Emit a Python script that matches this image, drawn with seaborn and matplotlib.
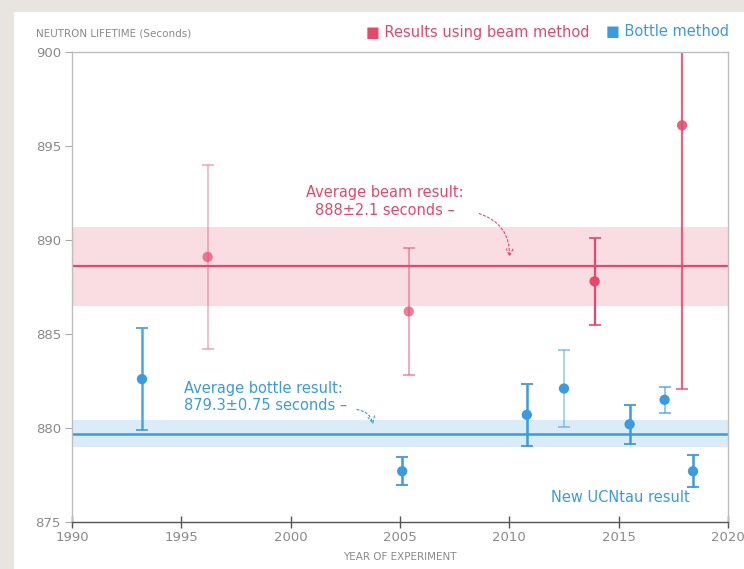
import numpy as np
import pandas as pd
import matplotlib
matplotlib.use("Agg")
import matplotlib.pyplot as plt
from matplotlib.patches import Rectangle
import seaborn as sns

# ---------------- data ----------------
beam_year = [1996.2, 2005.4, 2013.9, 2017.9]
beam_life = [889.1, 886.2, 887.8, 896.1]
beam_err = [4.9, 3.4, 2.3, 14.0]

bottle_year = [1993.2, 2005.1, 2010.8, 2012.5, 2015.5, 2017.1, 2018.4]
bottle_life = [882.6, 877.7, 880.7, 882.1, 880.2, 881.5, 877.7]
bottle_err = [2.7, 0.75, 1.65, 2.05, 1.05, 0.7, 0.85]

beam_avg, beam_avg_err = 888.6, 2.1
bottle_avg, bottle_avg_err = 879.7, 0.7

x_ticks = [1990, 1995, 2000, 2005, 2010, 2015, 2020]
y_ticks = [875, 880, 885, 890, 895, 900]

# ---------------- styles ----------------
PINK = "#e8476a"
PINK_BAND = "#fadce3"
BLUE = "#3a9be0"
BLUE_BAND = "#dbecf9"
GREY = "#8a8a8a"
beam_alpha = [0.45, 0.6, 1.0, 0.85]
bottle_alpha = [0.9, 1.0, 1.0, 0.55, 1.0, 0.7, 1.0]

sns.set_theme(style="white")
plt.rcParams["font.family"] = ["DejaVu Sans"]

fig = plt.figure(figsize=(7.44, 5.69), dpi=100)
fig.patch.set_facecolor("#e8e4df")
card = Rectangle((14 / 744, 0), 1 - 14 / 744, 1 - 12 / 569, transform=fig.transFigure,
                 facecolor="white", edgecolor="none", zorder=-10)
fig.patches.append(card)

ax = fig.add_axes([72 / 744, 1 - 522 / 569, (728 - 72) / 744, (522 - 52) / 569])
ax.set_facecolor("white")

# bands and average lines
ax.axhspan(beam_avg - beam_avg_err, beam_avg + beam_avg_err, color=PINK_BAND, lw=0, zorder=0)
ax.axhline(beam_avg, color=PINK, lw=1.6, zorder=1)
ax.axhspan(bottle_avg - bottle_avg_err, bottle_avg + bottle_avg_err, color=BLUE_BAND, lw=0, zorder=0)
ax.axhline(bottle_avg, color=BLUE, lw=1.8, zorder=1)

# error bars
for x, y, e, a in zip(beam_year, beam_life, beam_err, beam_alpha):
    ax.errorbar(x, y, yerr=e, color=PINK, alpha=a, lw=1.6 if a > 0.8 else 1.1,
                capsize=4, capthick=1.2, fmt="none", zorder=2)
for x, y, e, a in zip(bottle_year, bottle_life, bottle_err, bottle_alpha):
    ax.errorbar(x, y, yerr=e, color=BLUE, alpha=a, lw=1.8 if a > 0.8 else 1.1,
                capsize=4, capthick=1.3, fmt="none", zorder=2)

df = pd.DataFrame({
    "year": beam_year + bottle_year,
    "life": beam_life + bottle_life,
    "method": ["beam"] * len(beam_year) + ["bottle"] * len(bottle_year),
})
sns.scatterplot(data=df, x="year", y="life", hue="method",
                palette={"beam": PINK, "bottle": BLUE}, s=55, edgecolor="none",
                legend=False, ax=ax, zorder=3)
for c in ax.collections[-1:]:
    cols = c.get_facecolors()
    alphas = [max(a, 0.7) for a in beam_alpha] + [1.0] * len(bottle_year)
    cols[:, 3] = alphas
    c.set_facecolors(cols)

ax.set_xlim(1990, 2020)
ax.set_ylim(875, 900)
ax.set_xticks(x_ticks)
ax.set_xticks(np.arange(1990, 2021, 1), minor=True)
ax.set_yticks(y_ticks)
ax.set_xticklabels([str(t) for t in x_ticks], fontsize=9.5, color=GREY)
ax.set_yticklabels([str(t) for t in y_ticks], fontsize=9.5, color=GREY)
ax.tick_params(axis="x", which="major", direction="inout", length=9, width=1, color="#555555", pad=2)
ax.tick_params(axis="x", which="minor", direction="inout", length=5, width=0.9, color="#555555")
ax.tick_params(axis="y", which="major", direction="out", length=5, width=0.8, color="#aaaaaa", pad=3)
ax.tick_params(left=True, bottom=True)
for s in ["top", "right", "left"]:
    ax.spines[s].set_color("#bdbdbd")
    ax.spines[s].set_linewidth(1.0)
ax.spines["bottom"].set_color("#555555")
ax.spines["bottom"].set_linewidth(1.0)
ax.set_xlabel("YEAR OF EXPERIMENT", fontsize=7.5, color=GREY, labelpad=6)
ax.set_ylabel("")

# annotations
ax.text(2004.3, 892.05, "Average beam result:\n888±2.1 seconds –", color=PINK, fontsize=10.5,
        ha="center", va="center", linespacing=1.2)
ax.annotate("", xy=(2010.0, 888.95), xytext=(2008.5, 891.45),
            arrowprops=dict(arrowstyle="->", color=PINK, lw=0.8, ls=(0, (2, 2)),
                            connectionstyle="arc3,rad=-0.4"))
ax.text(1995.1, 881.65, "Average bottle result:\n879.3±0.75 seconds –", color=BLUE, fontsize=10.5,
        ha="left", va="center", linespacing=1.2)
ax.annotate("", xy=(2003.8, 880.05), xytext=(2002.9, 881.0),
            arrowprops=dict(arrowstyle="->", color=BLUE, lw=0.8, ls=(0, (2, 2)),
                            connectionstyle="arc3,rad=-0.4"))
ax.text(2015.1, 876.3, "New UCNtau result", color=BLUE, fontsize=10.5, ha="center", va="center")

# header texts
fig.text(36 / 744, 1 - 33 / 569, "NEUTRON LIFETIME (Seconds)", fontsize=7.5, color=GREY,
         ha="left", va="center")
fig.text(729 / 744, 1 - 32 / 569, "■ Bottle method", fontsize=10.5, color=BLUE, ha="right", va="center")
fig.text(589 / 744, 1 - 32 / 569, "■ Results using beam method", fontsize=10.5, color=PINK,
         ha="right", va="center")

fig.savefig("out.png", dpi=100, facecolor=fig.get_facecolor())
